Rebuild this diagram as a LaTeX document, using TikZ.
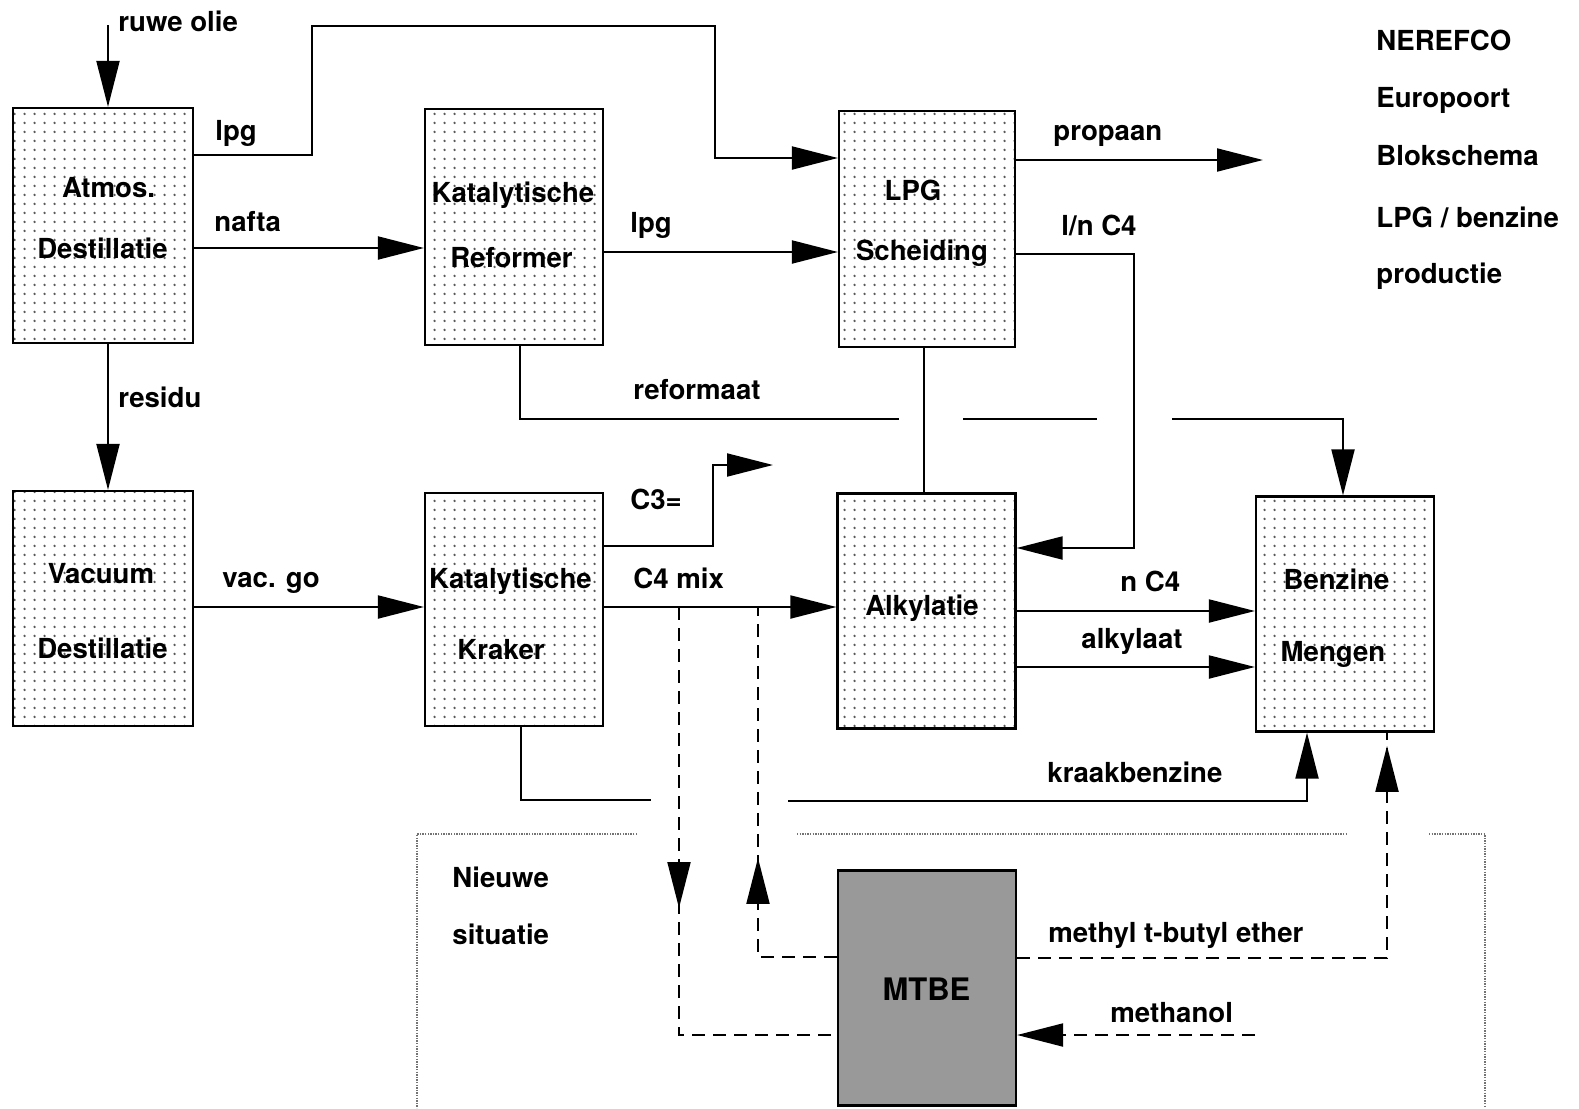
\documentclass[tikz,border=0pt]{standalone}
\usepackage{fontspec}
\setmainfont{TeX Gyre Heros}
\usetikzlibrary{arrows.meta,patterns.meta,decorations.markings}

\tikzdeclarepattern{
  name=boxdots,
  type=uncolored,
  bottom left={(0pt,0pt)},
  top right={(5pt,4.5pt)},
  tile size={(5pt,4.5pt)},
  code={\fill (2.5pt,2.25pt) circle (0.7pt);}
}

\begin{document}
\begin{tikzpicture}[x=0.5pt,y=-0.5pt,
  boxbase/.style={draw, line width=1.1pt, minimum width=89pt, minimum height=117.5pt, inner sep=0pt},
  box/.style={boxbase, pattern=boxdots, pattern color=black!65},
  mtbebox/.style={boxbase, fill=black!40},
  txt/.style={font=\fontsize{13.8}{16}\selectfont\bfseries, inner sep=0pt, anchor=base},
  bigtxt/.style={font=\fontsize{15.5}{18}\selectfont\bfseries, inner sep=0pt, anchor=base},
  lbl/.style={txt, anchor=base west},
  flow/.style={line width=1pt},
  arr/.style={flow, -{Triangle[length=23pt,width=11.5pt]}},
  dsh/.style={flow, dash pattern=on 6.5pt off 4pt},
  midarr/.style={postaction={decorate}, decoration={markings, mark=at position #1 with {\arrow{Triangle[length=23pt,width=11.5pt]}}}},
  newarea/.style={black!55, line width=1pt, dash pattern=on 0.7pt off 0.6pt}
]
\path[use as bounding box, fill=white] (0,0) rectangle (1579,1108);

% boxes
\node[box, minimum width=90pt] (atm) at (103,225.5) {};
\node[box, minimum height=118pt] (ref) at (514,227) {};
\node[box, minimum width=88pt, minimum height=118pt] (lpg) at (927,229) {};
\node[box, minimum width=90pt] (vac) at (103,608.5) {};
\node[box, minimum height=116.5pt] (krk) at (514,609.5) {};
\node[box] (alk) at (926.5,611) {};
\node[box] (ben) at (1345,614) {};
\node[mtbebox] (mtbe) at (927,988) {};

% box texts
\node[txt] (atmA) at (108.5,197) {Atmos.};
\node[txt] (atmB) at (102.5,258) {Destillatie};
\node[txt] (refA) at (513,202) {Katalytische};
\node[txt] (refB) at (511.5,267) {Reformer};
\node[txt] (lpgA) at (913,200) {LPG};
\node[txt] (lpgB) at (922,260) {Scheiding};
\node[txt] (vacA) at (101,583) {Vacuum};
\node[txt] (vacB) at (102.5,658) {Destillatie};
\node[txt] (krkA) at (510.5,588) {Katalytische};
\node[txt] (krkB) at (501,659) {Kraker};
\node[txt] (alkA) at (922,615) {Alkylatie};
\node[txt] (benA) at (1336.5,589) {Benzine};
\node[txt] (benB) at (1333,661) {Mengen};
\node[bigtxt] (mtbeA) at (926.5,1000) {MTBE};

% title
\node[lbl] (t1) at (1376,50) {NEREFCO};
\node[lbl] (t2) at (1376,107) {Europoort};
\node[lbl] (t3) at (1376,165) {Blokschema};
\node[lbl] (t4) at (1376,227) {LPG / benzine};
\node[lbl] (t5) at (1376,283) {productie};

% solid connectors
\coordinate (crude) at (108,25);
\draw[arr] (crude) -- (crude |- atm.north);
\node[lbl] (lcrude) at (118,32) {ruwe olie};

\draw[arr] (atm.east |- 0,155) -- (312,155) -- (312,26) -- (715,26) -- (715,158) -- (lpg.west |- 0,158);
\node[lbl] (llpg1) at (215,140) {lpg};

\draw[arr] (atm.east |- 0,248) -- (ref.west |- 0,248);
\node[lbl] (lnafta) at (214,231) {nafta};

\draw[arr] (ref.east |- 0,252) -- (lpg.west |- 0,252);
\node[lbl] (llpg2) at (630,232) {lpg};

\coordinate (propEnd) at (1263,160);
\draw[arr] (lpg.east |- propEnd) -- (propEnd);
\node[lbl] (lprop) at (1053,140) {propaan};

\draw[arr] (lpg.east |- 0,254) -- (1134,254) -- (1134,548) -- (alk.east |- 0,548);
\node[lbl] (lnc4) at (1061,235) {l/n C4};

\draw[flow] (lpg.south -| 924,0) -- (alk.north -| 924,0);

\draw[arr] (ref.south -| 520,0) -- (520,419) -- (899,419) (963,419) -- (1097,419) (1172,419) -- (1343,419) -- (ben.north -| 1343,0);
\node[lbl] (lref) at (633,399) {reformaat};

\draw[arr] (atm.south -| 108,0) -- (vac.north -| 108,0);
\node[lbl] (lres) at (118,407) {residu};

\draw[arr] (vac.east |- 0,607) -- (krk.west |- 0,607);
\node[lbl] (lvac) at (222,587) {vac. go};

\coordinate (c3End) at (773,465);
\draw[arr] (krk.east |- 0,546) -- (713,546) -- (713,465) -- (c3End);
\node[lbl] (lc3) at (630,509) {C3=};

\draw[arr] (krk.east |- 0,607) -- (alk.west |- 0,607);
\node[lbl] (lc4) at (633,588) {C4 mix};

\draw[arr] (alk.east |- 0,611) -- (ben.west |- 0,611);
\node[lbl] (lnc) at (1120,591) {n C4};

\draw[arr] (alk.east |- 0,667) -- (ben.west |- 0,667);
\node[lbl] (lalk) at (1081,648) {alkylaat};

\draw[arr] (krk.south -| 521,0) -- (521,800) -- (651,800) (788,801) -- (1307,801) -- (ben.south -| 1307,0);
\node[lbl] (lkraak) at (1047,782) {kraakbenzine};

% dashed connectors
\coordinate (tap1) at (679,607);
\coordinate (tap2) at (758,607);
\draw[dsh, midarr=150.5pt] (tap1) -- (679,1035) -- (mtbe.west |- 0,1035);
\draw[dsh, midarr=89pt] (mtbe.west |- 0,957) -- (758,957) -- (tap2);
\draw[dsh, midarr=291pt] (mtbe.east |- 0,958) -- (1387,958) -- (ben.south -| 1387,0);
\node[lbl] (lmtbe) at (1048,942) {methyl t-butyl ether};

\coordinate (methIn) at (1255,1035);
\draw[dsh, arr] (methIn) -- (mtbe.east |- methIn);
\node[lbl] (lmeth) at (1110,1022) {methanol};

% new situation area
\draw[newarea] (637,834) -- (417,834) -- (417,1108);
\draw[newarea] (797,834) -- (1347,834);
\draw[newarea] (1429,834) -- (1485,834) -- (1485,1108);
\node[lbl] (lnw1) at (452,887) {Nieuwe};
\node[lbl] (lnw2) at (452,944) {situatie};
\end{tikzpicture}
\end{document}
